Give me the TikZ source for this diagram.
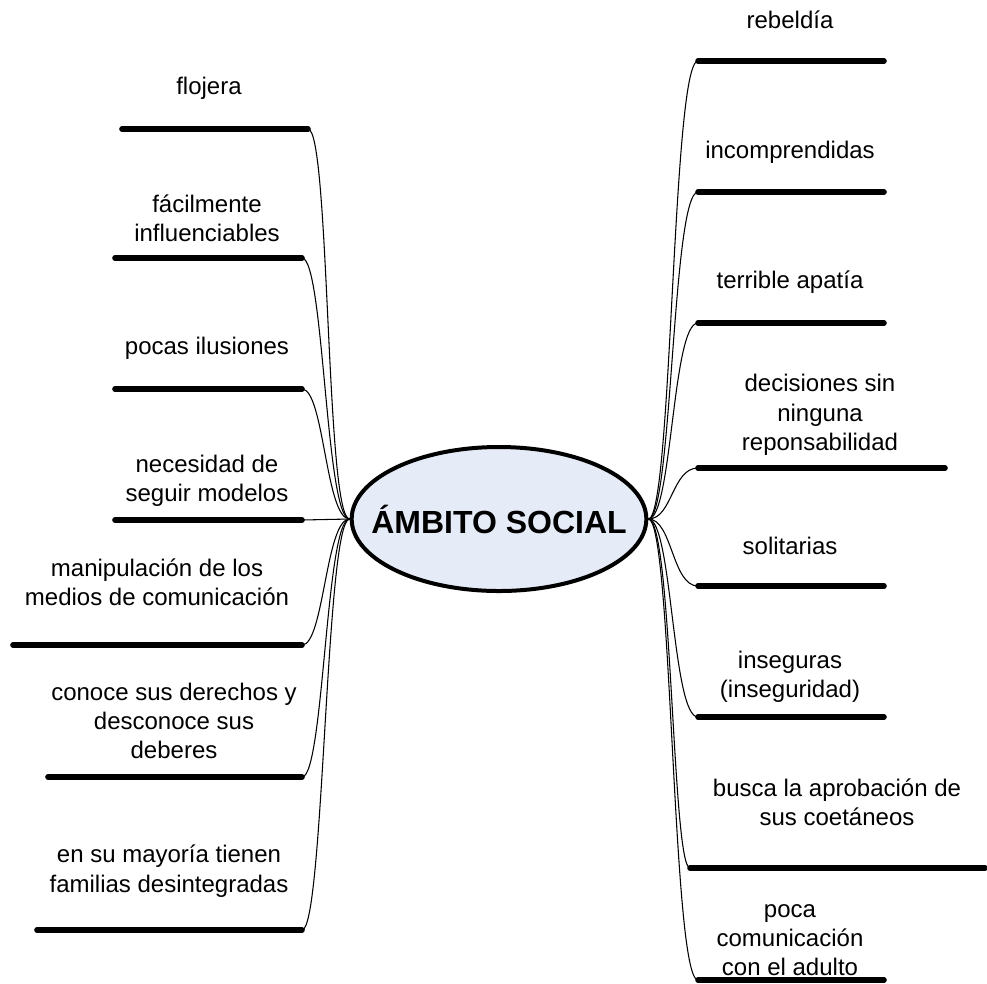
\documentclass[tikz,border=0pt]{standalone}
\usepackage{fontspec}
\setmainfont{Liberation Sans}
\usetikzlibrary{shapes.geometric}
\definecolor{elfill}{RGB}{230,236,247}
\tikzset{
  centro/.style={ellipse, draw=black, line width=3pt, fill=elfill, minimum width=221pt, minimum height=108pt, inner sep=0pt},
  titulo/.style={font=\fontsize{24}{28}\selectfont\bfseries, inner sep=0pt},
  rama/.style={line width=4.2pt, line cap=round},
  enlace/.style={line width=0.8pt},
  etiq/.style={align=center, font=\fontsize{18}{22}\selectfont, inner sep=0pt}
}

\begin{document}
\begin{tikzpicture}[x=0.75pt, y=-0.75pt]
\useasboundingbox (0,0) rectangle (987,983);
\node[centro, label={[titulo]center:ÁMBITO SOCIAL}] (amb) at (499,519) {};

% ramas izquierda
\coordinate (l1a) at (122,129); \coordinate (l1b) at (308,129);
\coordinate (l2a) at (115,258); \coordinate (l2b) at (302,258);
\coordinate (l3a) at (115,389); \coordinate (l3b) at (302,389);
\coordinate (l4a) at (115,520); \coordinate (l4b) at (302,520);
\coordinate (l5a) at (13,645);  \coordinate (l5b) at (302,645);
\coordinate (l6a) at (48,777);  \coordinate (l6b) at (302,777);
\coordinate (l7a) at (37,930);  \coordinate (l7b) at (302,930);
\node[etiq] (tl1) at (209,88) {flojera};
\node[etiq] (tl2) at (207,218) {fácilmente\\influenciables};
\node[etiq] (tl3) at (207,348) {pocas ilusiones};
\node[etiq] (tl4) at (207,481) {necesidad de\\seguir modelos};
\node[etiq] (tl5) at (157,582) {manipulación de los\\medios de comunicación};
\node[etiq] (tl6) at (174,721) {conoce sus derechos y\\desconoce sus\\deberes};
\node[etiq] (tl7) at (169,871) {en su mayoría tienen\\familias desintegradas};

% ramas derecha
\coordinate (r1a) at (698,61);  \coordinate (r1b) at (884,61);
\coordinate (r2a) at (698,192); \coordinate (r2b) at (884,192);
\coordinate (r3a) at (698,323); \coordinate (r3b) at (884,323);
\coordinate (r4a) at (698,468); \coordinate (r4b) at (945,468);
\coordinate (r5a) at (698,586); \coordinate (r5b) at (884,586);
\coordinate (r6a) at (698,717); \coordinate (r6b) at (884,717);
\coordinate (r7a) at (690,868); \coordinate (r7b) at (985,868);
\coordinate (r8a) at (698,980); \coordinate (r8b) at (884,980);
\node[etiq] (tr1) at (790,20) {rebeldía};
\node[etiq] (tr2) at (790,152) {incomprendidas};
\node[etiq] (tr3) at (790,282) {terrible apatía};
\node[etiq] (tr4) at (820,415) {decisiones sin\\ninguna\\reponsabilidad};
\node[etiq] (tr5) at (790,546) {solitarias};
\node[etiq] (tr6) at (790,677) {inseguras\\(inseguridad)};
\node[etiq] (tr7) at (837,802) {busca la aprobación de\\sus coetáneos};
\node[etiq] (tr8) at (790,940) {poca\\comunicación\\con el adulto};

% barras
\draw[rama] (l1a) -- (l1b);
\draw[rama] (l2a) -- (l2b);
\draw[rama] (l3a) -- (l3b);
\draw[rama] (l4a) -- (l4b);
\draw[rama] (l5a) -- (l5b);
\draw[rama] (l6a) -- (l6b);
\draw[rama] (l7a) -- (l7b);
\draw[rama] (r1a) -- (r1b);
\draw[rama] (r2a) -- (r2b);
\draw[rama] (r3a) -- (r3b);
\draw[rama] (r4a) -- (r4b);
\draw[rama] (r5a) -- (r5b);
\draw[rama] (r6a) -- (r6b);
\draw[rama] (r7a) -- (r7b);
\draw[rama] (r8a) -- (r8b);

% enlaces
\draw[enlace] (amb.west) .. controls +(-24,0) and +(22,0) .. (l1b);
\draw[enlace] (amb.west) .. controls +(-24,0) and +(22,0) .. (l2b);
\draw[enlace] (amb.west) .. controls +(-24,0) and +(22,0) .. (l3b);
\draw[enlace] (amb.west) -- (l4b);
\draw[enlace] (amb.west) .. controls +(-24,0) and +(22,0) .. (l5b);
\draw[enlace] (amb.west) .. controls +(-24,0) and +(22,0) .. (l6b);
\draw[enlace] (amb.west) .. controls +(-24,0) and +(22,0) .. (l7b);
\draw[enlace] (amb.east) .. controls +(24,0) and +(-26,0) .. (r1a);
\draw[enlace] (amb.east) .. controls +(24,0) and +(-26,0) .. (r2a);
\draw[enlace] (amb.east) .. controls +(24,0) and +(-26,0) .. (r3a);
\draw[enlace] (amb.east) .. controls +(24,0) and +(-26,0) .. (r4a);
\draw[enlace] (amb.east) .. controls +(24,0) and +(-26,0) .. (r5a);
\draw[enlace] (amb.east) .. controls +(24,0) and +(-26,0) .. (r6a);
\draw[enlace] (amb.east) .. controls +(24,0) and +(-18,0) .. (r7a);
\draw[enlace] (amb.east) .. controls +(24,0) and +(-26,0) .. (r8a);
\end{tikzpicture}
\end{document}
